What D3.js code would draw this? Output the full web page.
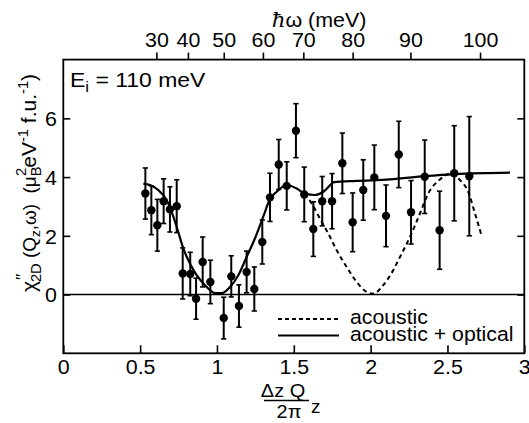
<!DOCTYPE html>
<html>
<head>
<meta charset="utf-8">
<script src="https://cdn.jsdelivr.net/npm/d3@7"></script>
<style>
  html, body { margin: 0; padding: 0; background: #fff; }
  svg { display: block; font-family: "Liberation Sans", Arial, Helvetica, sans-serif; }
</style>
</head>
<body>
<svg id="chart" width="529" height="423"></svg>
<script>
// ---- data ----
const qData = [0.534,0.573,0.612,0.653,0.694,0.738,0.777,0.826,0.864,0.907,0.957,1.044,1.093,1.143,1.193,1.243,1.295,1.345,1.402,1.454,1.514,1.568,1.627,1.685,1.749,1.816,1.883,1.952,2.024,2.100,2.183,2.263,2.352,2.449,2.544,2.642];
const chiData = [3.44,2.87,2.36,3.18,2.90,3.01,0.72,0.70,-0.14,1.11,0.43,-0.80,0.62,-0.39,0.77,0.19,1.79,3.31,4.43,3.70,5.58,3.41,2.23,3.18,3.18,4.47,2.46,3.56,3.99,2.68,4.77,2.80,4.01,2.19,4.13,4.03];
const chiErr = [0.87,0.83,0.88,0.76,0.77,0.90,0.87,0.74,0.70,0.85,0.74,0.71,0.70,0.72,0.71,0.75,0.75,0.82,0.85,0.82,0.92,0.93,0.93,0.84,0.94,1.03,1.00,1.03,1.10,1.05,1.13,1.08,1.25,1.33,1.62,2.03];

// "acoustic + optical" model curve (solid)
const solidQ = [0.521,0.564,0.618,0.673,0.716,0.748,0.781,0.824,0.868,0.922,0.987,1.031,1.085,1.139,1.193,1.247,1.301,1.345,1.389,1.454,1.519,1.573,1.638,1.692,1.747,1.757,1.909,2.126,2.354,2.549,2.907];
const solidChi = [3.78,3.73,3.56,3.21,2.65,2.13,1.57,1.06,0.66,0.32,0.05,0.05,0.26,0.66,1.28,1.91,2.65,3.25,3.50,3.73,3.61,3.44,3.39,3.50,3.78,3.82,3.87,3.92,4.03,4.10,4.15];

// "acoustic" model curve (dashed), where it departs from the solid one
const dashQ = [1.573,1.616,1.670,1.724,1.779,1.844,1.909,1.974,2.017,2.082,2.147,2.191,2.256,2.321,2.375,2.451,2.527,2.581,2.635,2.679,2.723];
const dashChi = [3.44,3.10,2.59,2.08,1.51,0.94,0.43,0.09,0.03,0.32,0.83,1.28,1.96,2.76,3.44,3.92,4.13,3.90,3.50,2.76,1.99];

// axes
const bottomTicks = [0, 0.5, 1, 1.5, 2, 2.5, 3];
const leftTicks = [0, 2, 4, 6];
const topEnergy = [30, 40, 50, 60, 70, 80, 90, 100];
const topTickQ = [0.606, 0.811, 1.044, 1.299, 1.562, 1.883, 2.259, 2.712];

// ---- drawing ----
const svg = d3.select("#chart");
const L = 63.3, R = 524.3, T = 59.6, B = 353.3;
const x = d3.scaleLinear().domain([0, 3]).range([L, R]);
const y = d3.scaleLinear().domain([-2, 8]).range([B, T]);
const FS = 20;
const SX = 1.07;

// zero line
svg.append("line")
  .attr("x1", x(0)).attr("x2", x(3)).attr("y1", y(0)).attr("y2", y(0))
  .attr("stroke", "#000").attr("stroke-width", 1.6);

// bottom axis (inward ticks)
const gB = svg.append("g").attr("transform", `translate(0,${B})`)
  .call(d3.axisBottom(x).tickValues(bottomTicks).tickFormat(d3.format("~g")).tickSize(-8).tickPadding(7));
// left axis
const gL = svg.append("g").attr("transform", `translate(${L},0)`)
  .call(d3.axisLeft(y).tickValues(leftTicks).tickFormat(d3.format("d")).tickSize(-7).tickPadding(6));
// right axis
const gR = svg.append("g").attr("transform", `translate(${R},0)`)
  .call(d3.axisRight(y).tickValues(leftTicks).tickFormat("").tickSize(-7));
// top axis (energy, outward ticks)
const gT = svg.append("g").attr("transform", `translate(0,${T})`)
  .call(d3.axisTop(x).tickValues(topTickQ).tickFormat((d, i) => topEnergy[i]).tickSize(7).tickPadding(6));

[gB, gL, gR, gT].forEach(g => {
  g.select(".domain").remove();
  g.selectAll(".tick line").attr("stroke", "#000").attr("stroke-width", 1.6);
  g.selectAll(".tick text").attr("fill", "#000").attr("font-size", FS)
    .attr("font-family", "'Liberation Sans', Arial, sans-serif")
    .attr("transform", `scale(${SX},1)`);
});
gL.selectAll(".tick text").attr("dy", "0.36em");

// frame
svg.append("rect").attr("x", L).attr("y", T).attr("width", R - L).attr("height", B - T)
  .attr("fill", "none").attr("stroke", "#000").attr("stroke-width", 1.8);

// model curves
const lineGen = d3.line().x(d => x(d[0])).y(d => y(d[1])).curve(d3.curveMonotoneX);
svg.append("path").datum(dashQ.map((q, i) => [q, dashChi[i]]))
  .attr("d", lineGen).attr("fill", "none").attr("stroke", "#000")
  .attr("stroke-width", 2).attr("stroke-dasharray", "4.5,3.5");
svg.append("path").datum(solidQ.map((q, i) => [q, solidChi[i]]))
  .attr("d", lineGen).attr("fill", "none").attr("stroke", "#000")
  .attr("stroke-width", 2.2);

// data with error bars
const pts = qData.map((q, i) => ({ q, v: chiData[i], e: chiErr[i] }));
const gP = svg.append("g");
const cap = 2.6;
gP.selectAll("line.eb").data(pts).join("line").attr("class", "eb")
  .attr("x1", d => x(d.q)).attr("x2", d => x(d.q))
  .attr("y1", d => y(d.v - d.e)).attr("y2", d => y(d.v + d.e))
  .attr("stroke", "#000").attr("stroke-width", 2);
gP.selectAll("line.ct").data(pts).join("line").attr("class", "ct")
  .attr("x1", d => x(d.q) - cap).attr("x2", d => x(d.q) + cap)
  .attr("y1", d => y(d.v + d.e)).attr("y2", d => y(d.v + d.e))
  .attr("stroke", "#000").attr("stroke-width", 1.6);
gP.selectAll("line.cb").data(pts).join("line").attr("class", "cb")
  .attr("x1", d => x(d.q) - cap).attr("x2", d => x(d.q) + cap)
  .attr("y1", d => y(d.v - d.e)).attr("y2", d => y(d.v - d.e))
  .attr("stroke", "#000").attr("stroke-width", 1.6);
gP.selectAll("circle").data(pts).join("circle")
  .attr("cx", d => x(d.q)).attr("cy", d => y(d.v)).attr("r", 4.2).attr("fill", "#000");

// helper: horizontally stretched text anchored at (px, py)
function label(px, py, sx, size, anchor) {
  return svg.append("g").attr("transform", `translate(${px},${py}) scale(${sx},1)`)
    .append("text").attr("font-size", size).attr("text-anchor", anchor || "start");
}

// E_i label
const ei = label(70, 87, 1.12, 20.5);
ei.append("tspan").text("E");
ei.append("tspan").attr("font-size", 15).attr("dy", 5).text("i");
ei.append("tspan").attr("dy", -5).text(" = 110 meV");

// legend
svg.append("line").attr("x1", 278).attr("x2", 339).attr("y1", 319).attr("y2", 319)
  .attr("stroke", "#000").attr("stroke-width", 1.8).attr("stroke-dasharray", "4,3");
svg.append("line").attr("x1", 278).attr("x2", 339).attr("y1", 335.5).attr("y2", 335.5)
  .attr("stroke", "#000").attr("stroke-width", 1.8);
label(350, 323.5, 1.09, 19.5).text("acoustic");
label(350, 340.5, 1.09, 19.5).text("acoustic + optical");

// top axis title
const tt = label(319, 27, 1.07, 20, "middle");
tt.append("tspan").attr("font-family", "'DejaVu Serif', serif").attr("font-style", "italic").text("ħ");
tt.append("tspan").text("ω (meV)");

// bottom axis title: (Δz Q / 2π)_z
label(283, 397, 1.05, 19, "middle").text("Δz Q");
svg.append("line").attr("x1", 264).attr("x2", 309).attr("y1", 400.5).attr("y2", 400.5)
  .attr("stroke", "#000").attr("stroke-width", 1.5);
label(289, 418, 1.05, 19, "middle").text("2π");
label(311, 413, 1.05, 18).text("z");

// y axis title
const yl = svg.append("text").attr("transform", "translate(36,183) rotate(-90) scale(1.05,1)")
  .attr("text-anchor", "middle").attr("font-size", 20);
yl.append("tspan").text("χ");
yl.append("tspan").attr("font-size", 17).attr("dx", 1).attr("dy", -8).text("″");
yl.append("tspan").attr("font-size", 14).attr("dx", -8).attr("dy", 13).text("2D");
yl.append("tspan").attr("font-size", 18).attr("dy", -5).text(" (Q");
yl.append("tspan").attr("font-size", 13).attr("dy", 4).text("z");
yl.append("tspan").attr("font-size", 18).attr("dy", -4).text(",ω)\u00a0\u00a0(μ");
yl.append("tspan").attr("font-size", 14).attr("dy", 5).text("B");
yl.append("tspan").attr("font-size", 14).attr("dx", -9).attr("dy", -15).text("2");
yl.append("tspan").attr("dy", 10).text("eV");
yl.append("tspan").attr("font-size", 14).attr("dy", -8).text("-1");
yl.append("tspan").attr("dy", 8).text(" f.u.");
yl.append("tspan").attr("font-size", 14).attr("dy", -8).text("-1");
yl.append("tspan").attr("dy", 8).text(")");
</script>
</body>
</html>
